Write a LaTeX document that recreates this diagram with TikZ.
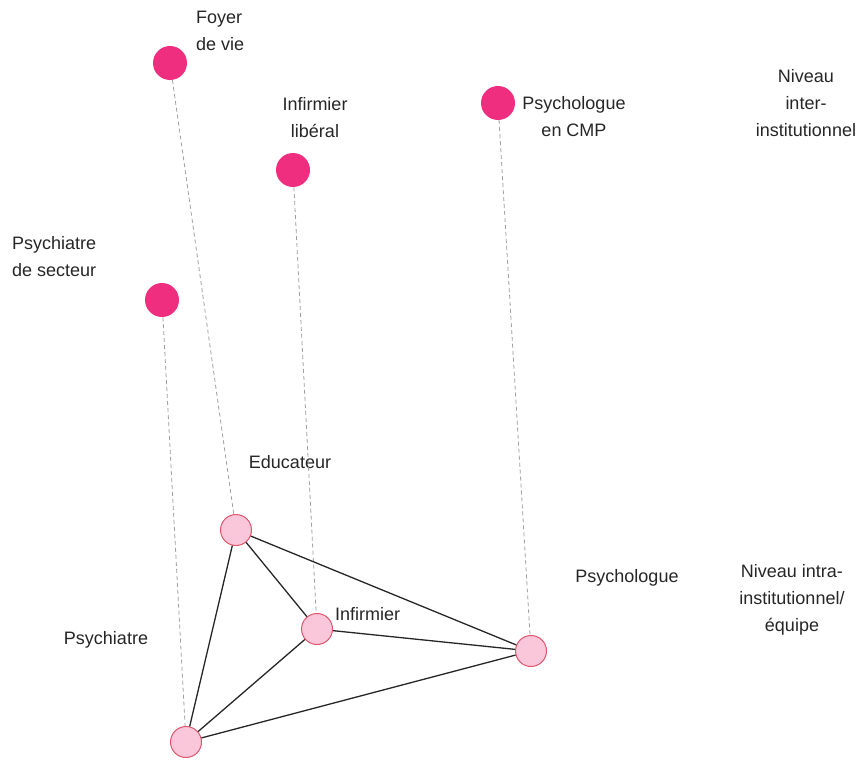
\documentclass[tikz,border=0pt]{standalone}
\usepackage{fontspec}
\setmainfont{Liberation Sans}
\definecolor{extpink}{HTML}{F02E7F}
\definecolor{intfill}{HTML}{F9C6DA}
\definecolor{intdraw}{HTML}{E0566F}
\definecolor{linkgray}{HTML}{A0A0A0}
\tikzset{
  extnode/.style={circle, fill=extpink, minimum size=34pt, inner sep=0pt},
  intnode/.style={circle, fill=intfill, draw=intdraw, line width=1pt, minimum size=31pt, inner sep=0pt},
  lbl/.style={align=center, font=\fontsize{18}{27}\selectfont, text=black!85, inner sep=0pt},
  link/.style={draw=linkgray, dash pattern=on 4pt off 3pt, line width=0.8pt},
  team/.style={draw=black!85, line width=1.3pt}
}
\begin{document}
\begin{tikzpicture}[x=1pt, y=-1pt]
    \useasboundingbox (0,0) rectangle (863,760);

    % niveau inter-institutionnel
    \node (foyer) at (170,63) [extnode] {};
    \node (infl) at (293,170) [extnode] {};
    \node (psycmp) at (498,103) [extnode] {};
    \node (psysect) at (162,300) [extnode] {};

    \node (l1) at (196,31) [lbl, anchor=west, align=left] {Foyer\\de vie};
    \node (l2) at (315,118) [lbl] {Infirmier\\libéral};
    \node (l3) at (574,117) [lbl] {Psychologue\\en CMP};
    \node (l4) at (12,257) [lbl, anchor=west, align=left] {Psychiatre\\de secteur};
    \node (l5) at (806,103) [lbl] {Niveau\\inter-\\institutionnel};

    % niveau intra-institutionnel
    \node (educ) at (236,530) [intnode] {};
    \node (inf) at (317,629) [intnode] {};
    \node (psyc) at (531,651) [intnode] {};
    \node (psyt) at (186,742) [intnode] {};

    \node (l6) at (290,462) [lbl] {Educateur};
    \node (l7) at (335,614) [lbl, anchor=west] {Infirmier};
    \node (l8) at (627,578) [lbl] {Psychologue};
    \node (l9) at (106,640) [lbl] {Psychiatre};
    \node (l10) at (792,600) [lbl] {Niveau intra-\\institutionnel/\\équipe};

     \draw [link] (foyer) edge (educ);
     \draw [link] (infl) edge (inf);
     \draw [link] (psycmp) edge (psyc);
     \draw [link] (psysect) edge (psyt);

     \draw [team] (educ) edge (psyt);
     \draw [team] (educ) edge (inf);
     \draw [team] (educ) edge (psyc);
     \draw [team] (inf) edge (psyc);
     \draw [team] (inf) edge (psyt);
     \draw [team] (psyt) edge (psyc);
\end{tikzpicture}
\end{document}
